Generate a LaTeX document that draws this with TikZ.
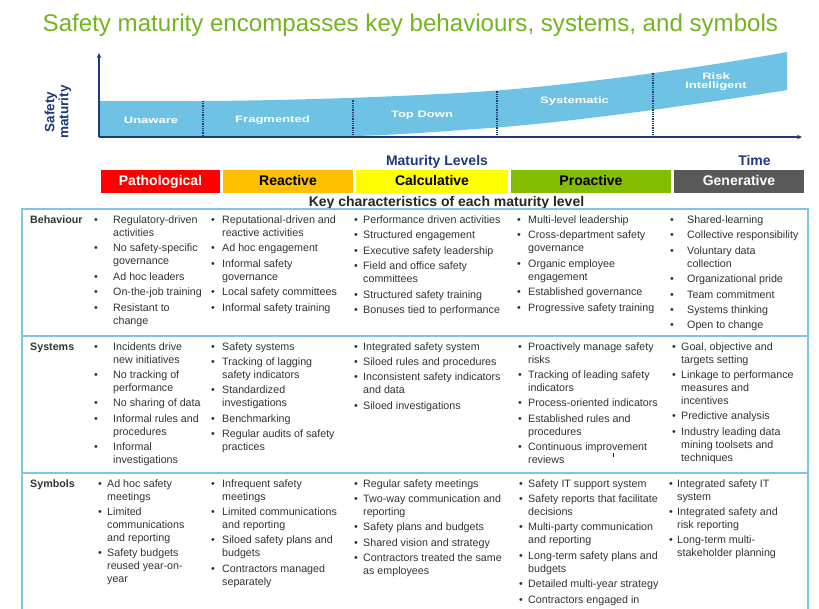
\documentclass[tikz,border=0pt]{standalone}
\usepackage{fontspec}
\setmainfont{Liberation Sans}
\usepackage{graphicx}
\usetikzlibrary{arrows.meta}
\definecolor{titlegreen}{HTML}{72B51E}
\definecolor{band}{HTML}{6EC3E4}
\definecolor{navy}{HTML}{1F3A7A}
\definecolor{gridblue}{HTML}{7CC6E8}
\definecolor{txt}{HTML}{333333}
\definecolor{lvred}{HTML}{FF0000}
\definecolor{lvorange}{HTML}{FFC000}
\definecolor{lvyellow}{HTML}{FFFF00}
\definecolor{lvgreen}{HTML}{84BD00}
\definecolor{lvgray}{HTML}{595959}
\newcommand{\BU}{\textbullet&}
\newcommand{\IG}{\\[2.4pt]}
\newcommand{\tcell}[5]{\node[cellbox, anchor=base west] (#1) at ({#2-2},#4) {\begin{tabular}[t]{@{}p{\dimexpr#3pt-#2pt+2pt\relax}@{}l@{}}#5\end{tabular}};}
\begin{document}
\begin{tikzpicture}[x=1pt,y=-1pt,
  cellbox/.style={inner sep=0pt, font=\fontsize{10.7}{13}\selectfont, text=txt},
  rowlbl/.style={inner sep=0pt, anchor=base west, font=\fontsize{10.7}{13}\selectfont\bfseries, text=txt},
  lvbox/.style={inner sep=0pt, minimum height=23pt, text height=10.5pt, text depth=2.5pt, font=\fontsize{14}{14}\selectfont\bfseries},
  bandlbl/.style={inner sep=0pt, text=white, font=\fontsize{9.3}{9.8}\selectfont\bfseries, align=center},
  gridline/.style={draw=gridblue, line width=1.8pt},
  divider/.style={draw=navy, line width=1.3pt, dash pattern=on 1pt off 0.8pt},
  axis/.style={draw=navy, line width=1.5pt, -{Stealth[length=5pt,width=4.5pt]}}]
\clip (0,0) rectangle (819,608);
\fill[white] (0,0) rectangle (819,608);

% title
\node[inner sep=0pt, anchor=base west, text=titlegreen, font=\fontsize{24.1}{26}\selectfont] (title) at (42.5,31) {Safety maturity encompasses key behaviours, systems, and symbols};

% band
\fill[band] (99,101) -- (203,101) .. controls (300,100.5) and (420,96) .. (497,90.5) .. controls (580,84) and (700,68) .. (787,52) -- (787,90) .. controls (700,104) and (580,121) .. (497,127.5) .. controls (440,131.5) and (390,135.5) .. (353,136) -- (99,136) -- cycle;
\draw[divider] (203,101) -- (203,136.5);
\draw[divider] (353,99.5) -- (353,136.5);
\draw[divider] (497,90.5) -- (497,136.5);
\draw[divider] (653,72.5) -- (653,136.5);

\coordinate (o) at (99,137);
\coordinate (ytip) at (99,53);
\coordinate (xtip) at (802,137);
\draw[axis] (o) -- (ytip);
\draw[axis] (o) -- (xtip);

\node[bandlbl] (unaware) at (151,120) {\scalebox{1.4}[1]{Unaware}};
\node[bandlbl] (fragmented) at (272.5,120.5) {\scalebox{1.4}[1]{Fragmented}};
\node[bandlbl] (topdown) at (422,115) {\scalebox{1.4}[1]{Top Down}};
\node[bandlbl] (systematic) at (574.5,101.5) {\scalebox{1.4}[1]{Systematic}};
\node[bandlbl] (riskint) at (716,81.5) {\scalebox{1.4}[1]{Risk}\\[-1pt]\scalebox{1.4}[1]{Intelligent}};

\node[rotate=90, inner sep=0pt, text=navy, font=\fontsize{13.5}{14}\selectfont\bfseries, align=center] (ylabel) at (58,112) {Safety\\maturity};

\node[inner sep=0pt, anchor=base, text=navy, font=\fontsize{14}{14}\selectfont\bfseries] (mlevels) at (437,165) {Maturity Levels};
\node[inner sep=0pt, anchor=base, text=navy, font=\fontsize{14}{14}\selectfont\bfseries] (time) at (754.5,165) {Time};

% level boxes
\node[lvbox, fill=lvred, text=white, minimum width=119pt] (patho) at (160.5,181.5) {Pathological};
\node[lvbox, fill=lvorange, text=black, minimum width=130pt] (reactive) at (288,181.5) {Reactive};
\node[lvbox, fill=lvyellow, text=black, minimum width=152pt] (calc) at (432,181.5) {Calculative};
\node[lvbox, fill=lvgreen, text=black, minimum width=160pt] (proactive) at (591,181.5) {Proactive};
\node[lvbox, fill=lvgray, text=white, minimum width=130pt] (generative) at (739,181.5) {Generative};

\node[inner sep=0pt, anchor=base, text=black!85, font=\fontsize{14}{14}\selectfont\bfseries] (keych) at (446.5,206) {Key characteristics of each maturity level};

% table grid
\draw[gridline] (22,209) -- (808,209);
\draw[gridline] (22,336) -- (808,336);
\draw[gridline] (22,473) -- (808,473);
\draw[gridline] (22,208.1) -- (22,612);
\draw[gridline] (808,208.1) -- (808,612);

% row labels
\node[rowlbl] (behaviour) at (30,223.5) {Behaviour};
\node[rowlbl] (systems) at (30,350) {Systems};
\node[rowlbl] (symbols) at (30,487) {Symbols};

% Behaviour row
\tcell{b1}{96}{113}{223.5}{\BU Regulatory-driven\\ & activities\IG
\BU No safety-specific\\ & governance\IG
\BU Ad hoc leaders\IG
\BU On-the-job training\IG
\BU Resistant to\\ & change}
\tcell{b2}{213}{222}{223.5}{\BU Reputational-driven and\\ & reactive activities\IG
\BU Ad hoc engagement\IG
\BU Informal safety\\ & governance\IG
\BU Local safety committees\IG
\BU Informal safety training}
\tcell{b3}{356}{363}{223.5}{\BU Performance driven activities\IG
\BU Structured engagement\IG
\BU Executive safety leadership\IG
\BU Field and office safety\\ & committees\IG
\BU Structured safety training\IG
\BU Bonuses tied to performance}
\tcell{b4}{519}{528}{223.5}{\BU Multi-level leadership\IG
\BU Cross-department safety\\ & governance\IG
\BU Organic employee\\ & engagement\IG
\BU Established governance\IG
\BU Progressive safety training}
\tcell{b5}{672}{687}{223.5}{\BU Shared-learning\IG
\BU Collective responsibility\IG
\BU Voluntary data\\ & collection\IG
\BU Organizational pride\IG
\BU Team commitment\IG
\BU Systems thinking\IG
\BU Open to change}

% Systems row
\tcell{s1}{96}{113}{350}{\BU Incidents drive\\ & new initiatives\IG
\BU No tracking of\\ & performance\IG
\BU No sharing of data\IG
\BU Informal rules and\\ & procedures\IG
\BU Informal\\ & investigations}
\tcell{s2}{213}{222}{350}{\BU Safety systems\IG
\BU Tracking of lagging\\ & safety indicators\IG
\BU Standardized\\ & investigations\IG
\BU Benchmarking\IG
\BU Regular audits of safety\\ & practices}
\tcell{s3}{356}{363}{350}{\BU Integrated safety system\IG
\BU Siloed rules and procedures\IG
\BU Inconsistent safety indicators\\ & and data\IG
\BU Siloed investigations}
\tcell{s4}{520}{528}{350}{\BU Proactively manage safety\\ & risks\IG
\BU Tracking of leading safety\\ & indicators\IG
\BU Process-oriented indicators\IG
\BU Established rules and\\ & procedures\IG
\BU Continuous improvement\\ & reviews}
\tcell{s5}{674}{681}{350}{\BU Goal, objective and\\ & targets setting\IG
\BU Linkage to performance\\ & measures and\\ & incentives\IG
\BU Predictive analysis\IG
\BU Industry leading data\\ & mining toolsets and\\ & techniques}

% Symbols row
\tcell{y1}{100}{107}{487}{\BU Ad hoc safety\\ & meetings\IG
\BU Limited\\ & communications\\ & and reporting\IG
\BU Safety budgets\\ & reused year-on-\\ & year}
\tcell{y2}{213}{222}{487}{\BU Infrequent safety\\ & meetings\IG
\BU Limited communications\\ & and reporting\IG
\BU Siloed safety plans and\\ & budgets\IG
\BU Contractors managed\\ & separately}
\tcell{y3}{356}{363}{487}{\BU Regular safety meetings\IG
\BU Two-way communication and\\ & reporting\IG
\BU Safety plans and budgets\IG
\BU Shared vision and strategy\IG
\BU Contractors treated the same\\ & as employees}
\tcell{y4}{521}{528}{487}{\BU Safety IT support system\IG
\BU Safety reports that facilitate\\ & decisions\IG
\BU Multi-party communication\\ & and reporting\IG
\BU Long-term safety plans and\\ & budgets\IG
\BU Detailed multi-year strategy\IG
\BU Contractors engaged in}
\tcell{y5}{671}{677}{487}{\BU Integrated safety IT\\ & system\IG
\BU Integrated safety and\\ & risk reporting\IG
\BU Long-term multi-\\ & stakeholder planning}

% small blue mark
\fill[blue] (612.5,453) rectangle (614,457);
\end{tikzpicture}
\end{document}
